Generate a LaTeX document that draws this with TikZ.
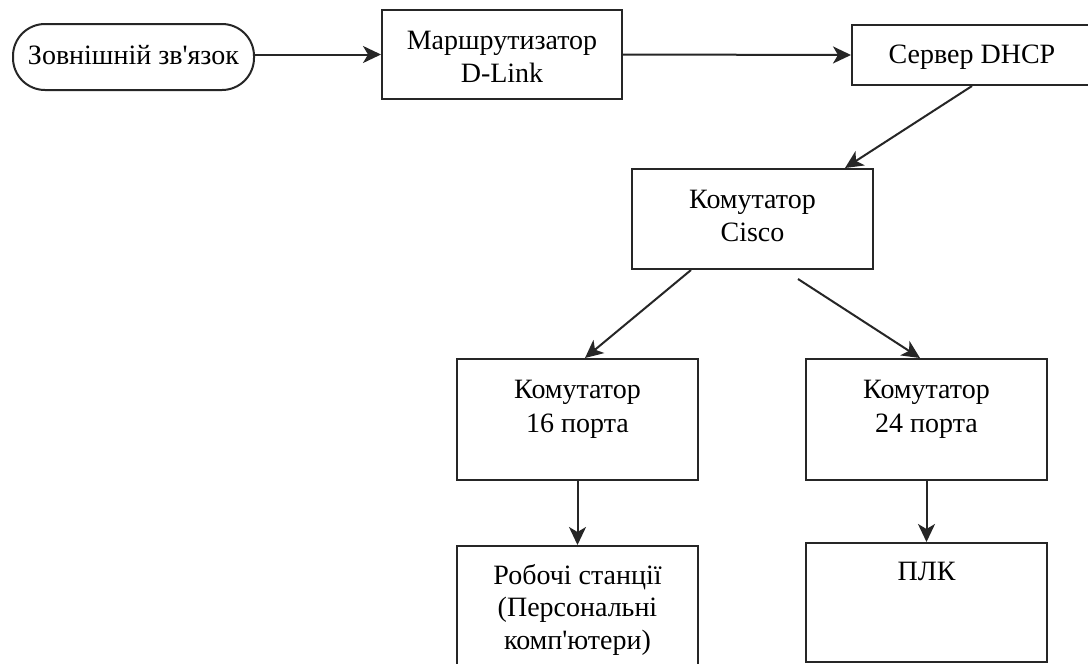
\documentclass[tikz,border=0pt]{standalone}
\usepackage{fontspec}
\setmainfont{Liberation Serif}
\usetikzlibrary{arrows.meta}
\begin{document}
\begin{tikzpicture}[x=1pt,y=-1pt,
  box/.style={draw=black!85, line width=2pt, rectangle, inner sep=0pt, minimum width=241pt},
  lbl/.style={anchor=base, inner sep=0pt, font=\fontsize{28}{33}\selectfont, text=black},
  arr/.style={draw=black!85, line width=2pt, -{Stealth[length=18pt,width=17pt,inset=5pt]}}]
\useasboundingbox (0,0) rectangle (1088,664);
\fill[white] (0,0) rectangle (1088,664);

% blocks
\node[box, rounded corners=32pt, minimum height=66pt] (ext) at (133.5,57) {};
\node[box, minimum width=240pt, minimum height=89pt] (router) at (502,54.5) {};
\node[box, minimum width=240pt, minimum height=60pt] (dhcp) at (972,55) {};
\node[box, minimum height=100pt] (cisco) at (752.5,219) {};
\node[box, minimum height=121pt] (sw16) at (577.5,419.5) {};
\node[box, minimum height=121pt] (sw24) at (926.5,419.5) {};
\node[box, minimum height=121pt] (pcs) at (577.5,606.5) {};
\node[box, minimum height=119pt] (plc) at (926.5,602.5) {};

% labels
\node[lbl] (extA) at (133.5,64) {Зовнішній зв\textquotesingle язок};
\node[lbl] (routerA) at (502,49) {Маршрутизатор};
\node[lbl] (routerB) at (502,82) {D-Link};
\node[lbl] (dhcpA) at (972,63) {Сервер DHCP};
\node[lbl] (ciscoA) at (752.5,208) {Комутатор};
\node[lbl] (ciscoB) at (752.5,241) {Cisco};
\node[lbl] (sw16A) at (577.5,398) {Комутатор};
\node[lbl] (sw16B) at (577.5,432) {16 порта};
\node[lbl] (sw24A) at (926.5,398) {Комутатор};
\node[lbl] (sw24B) at (926.5,432) {24 порта};
\node[lbl] (pcsA) at (577.5,584) {Робочі станції};
\node[lbl] (pcsB) at (577.5,616.5) {(Персональні};
\node[lbl] (pcsC) at (577.5,649) {комп\textquotesingle ютери)};
\node[lbl] (plcA) at (926.5,580) {ПЛК};

% links
\draw[arr] (ext.east |- router.west) -- (router.west);
\draw[arr] (router.east) -- (dhcp.west);
\draw[arr] (dhcp.south) -- ([xshift=92.5pt]cisco.north);
\draw[arr] ([xshift=-61.5pt]cisco.south) -- ([xshift=7.5pt]sw16.north);
\draw[arr] ([xshift=45.5pt,yshift=-9pt]cisco.south) -- ([xshift=-6.5pt]sw24.north);
\draw[arr] (sw16.south) -- (pcs.north);
\draw[arr] (sw24.south) -- (plc.north);
\end{tikzpicture}
\end{document}
